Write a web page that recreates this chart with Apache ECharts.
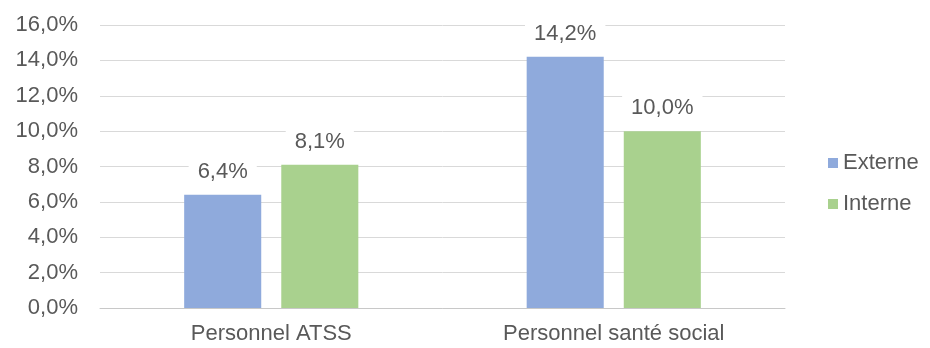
<!DOCTYPE html>
<html>
<head>
<meta charset="utf-8">
<script src="https://cdn.jsdelivr.net/npm/echarts@6/dist/echarts.min.js"></script>
<style>html,body{margin:0;padding:0;background:#fff;}#c{width:930px;height:348px;}</style>
</head>
<body>
<div id="c"></div>
<script>
const categories = ['Personnel ATSS', 'Personnel santé social'];
const externe = [6.4, 14.2];
const interne = [8.1, 10.0];
const seriesNames = ['Externe', 'Interne'];
const yTicks = { min: 0, max: 16, interval: 2 };

const fmt = v => v.toFixed(1).replace('.', ',') + '%';
const font = 'Liberation Sans, Arial, sans-serif';
const txt = '#595959';

const chart = echarts.init(document.getElementById('c'), null, { renderer: 'canvas' });
const labelCfg = {
  show: true, position: 'top', distance: 12,
  formatter: p => fmt(p.value),
  color: txt, fontSize: 22, fontFamily: font,
  backgroundColor: '#fff', padding: [2, 9, 0, 9]
};
chart.setOption({
  animation: false,
  grid: { left: 100, right: 145, top: 25, bottom: 40 },
  legend: {
    orient: 'vertical', left: 828, top: 152, itemGap: 19, padding: 0,
    itemWidth: 10, itemHeight: 10, icon: 'rect',
    textStyle: { color: txt, fontSize: 22, fontFamily: font },
    data: seriesNames
  },
  xAxis: {
    type: 'category', data: categories,
    axisLine: { lineStyle: { color: '#c8c8c8', width: 1 } },
    axisTick: { show: false },
    axisLabel: { color: txt, fontSize: 22, fontFamily: font, margin: 15 }
  },
  yAxis: {
    type: 'value', min: yTicks.min, max: yTicks.max, interval: yTicks.interval,
    axisLine: { show: false }, axisTick: { show: false },
    splitLine: { lineStyle: { color: '#d9d9d9', width: 1 } },
    axisLabel: { color: txt, fontSize: 22, fontFamily: font, margin: 22, formatter: v => fmt(v) }
  },
  series: [
    { name: seriesNames[0], type: 'bar', data: externe, barWidth: '22.5%', barGap: '26%',
      itemStyle: { color: '#8faadc' }, label: labelCfg },
    { name: seriesNames[1], type: 'bar', data: interne, barWidth: '22.5%', barGap: '26%',
      itemStyle: { color: '#a9d18e' }, label: labelCfg }
  ]
});
</script>
</body>
</html>
